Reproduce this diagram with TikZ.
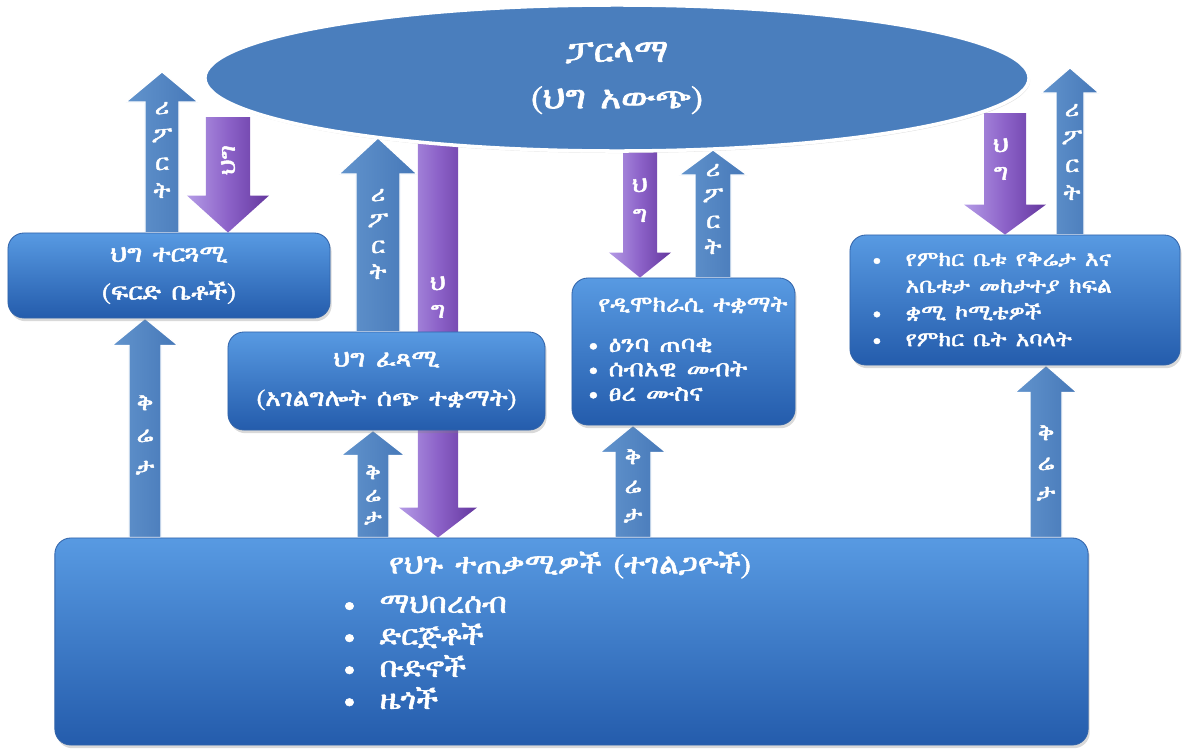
\documentclass[tikz,border=0pt]{standalone}
\usepackage{fontspec}
\usepackage{tikz}
\usetikzlibrary{shapes.geometric}
\usetikzlibrary{calc}
\usetikzlibrary{shadows}
\usetikzlibrary{backgrounds}
\newfontfamily\ethfont{FreeSerif}[FakeBold=2,FakeStretch=1.1,WordSpace=1.6]
\definecolor{boxtop}{RGB}{88,154,226}
\definecolor{boxbot}{RGB}{36,92,172}
\definecolor{boxline}{RGB}{50,100,170}
\definecolor{arrblue}{RGB}{70,120,184}
\definecolor{arrblueL}{RGB}{98,148,205}
\definecolor{purpL}{RGB}{180,155,230}
\definecolor{purpM}{RGB}{140,98,200}
\definecolor{purpD}{RGB}{100,55,158}
\definecolor{parlblue}{RGB}{74,126,189}

\tikzset{
  govbox/.style={rectangle, rounded corners=0.4cm, top color=boxtop, bottom color=boxbot,
    draw=boxline, line width=0.6pt,
    drop shadow={opacity=0.3, shadow xshift=0.04cm, shadow yshift=-0.08cm}},
  lbl/.style={text=white, font=\ethfont\fontsize{17}{19}\selectfont},
  upblock/.style={left color=arrblueL, right color=arrblue, draw=white, line width=0.8pt},
  downblock/.style={left color=purpL, right color=purpD, middle color=purpM},
  archar/.style={text=white, font=\ethfont\fontsize{16}{19.8}\selectfont, align=center, inner sep=0pt}
}

% block arrow: [style]{from}{to}{shaft half}{head half}{head length}
\newcommand{\blockarr}[6][]{%
  \coordinate (ba-s) at (#2);
  \coordinate (ba-t) at (#3);
  \coordinate (ba-h) at ($(ba-t)!#6!(ba-s)$);
  \path[#1] ([xshift=-#4]ba-s) -- ([xshift=-#4]ba-h) -- ([xshift=-#5]ba-h) -- (ba-t)
    -- ([xshift=#5]ba-h) -- ([xshift=#4]ba-h) -- ([xshift=#4]ba-s) -- cycle;
}

\begin{document}
\begin{tikzpicture}[x=0.025cm, y=-0.025cm]
  \useasboundingbox (0,0) rectangle (1184,750);

  % parliament
  \node[ellipse, fill=parlblue, draw=white, line width=2.5pt,
    drop shadow={opacity=0.25, shadow xshift=0.03cm, shadow yshift=-0.05cm},
    minimum width=20.6cm, minimum height=3.65cm, align=center,
    text=white, font=\ethfont\fontsize{23}{33}\selectfont] (parl) at (617,78)
    {ፓርላማ\\(ህግ አውጭ)};

  % institutions
  \node[govbox, minimum width=8.05cm, minimum height=2.125cm, align=center,
    lbl, font=\ethfont\fontsize{17}{27}\selectfont] (court) at (169,275.5)
    {ህግ ተርጓሚ\\(ፍርድ ቤቶች)};
  \node[govbox, minimum width=7.925cm, minimum height=2.45cm, align=center,
    lbl, font=\ethfont\fontsize{17}{28}\selectfont] (exec) at (386.5,381)
    {ህግ ፈጻሚ\\(አገልግሎት ሰጭ ተቋማት)};
  \node[govbox, minimum width=5.575cm, minimum height=3.675cm] (demo) at (683.5,351.5) {};
  \node[govbox, minimum width=8.25cm, minimum height=3.25cm] (council) at (1015,300) {};
  \node[govbox, minimum width=25.825cm, minimum height=5.175cm] (users) at (571.5,641.5) {};

  \node[lbl, anchor=west, inner sep=0pt, font=\ethfont\fontsize{16}{19}\selectfont]
    (demot) at (598,305) {የዲሞክራሲ ተቋማት};
  \node[lbl, anchor=north west, align=left, inner sep=0pt,
    font=\ethfont\fontsize{16.5}{17.4}\selectfont] (demol) at (588,338)
    {• ዕንባ ጠባቂ\\• ሰብአዊ መብት\\• ፀረ ሙስና};

  \node[lbl, anchor=north west, inner sep=0pt, font=\ethfont\fontsize{15}{19}\selectfont]
    (councill) at (872,247)
    {\begin{tabular}{@{}l@{\hspace{0.6cm}}l@{}}
      • & የምክር ቤቱ የቅሬታ እና\\
        & አቤቱታ መከታተያ ክፍል\\
      • & ቋሚ ኮሚቴዎች\\
      • & የምክር ቤት አባላት
    \end{tabular}};

  \node[lbl, font=\ethfont\fontsize{20}{22}\selectfont] (userst) at (570,565)
    {የህጉ ተጠቃሚዎች (ተገልጋዮች)};
  \node[lbl, anchor=north west, inner sep=0pt, font=\ethfont\fontsize{20}{22.8}\selectfont]
    (usersl) at (343,590)
    {\begin{tabular}{@{}l@{\hspace{0.6cm}}l@{}}
      • & ማህበረሰብ\\
      • & ድርጅቶች\\
      • & ቡድኖች\\
      • & ዜጎች
    \end{tabular}};

  % free ends
  \coordinate (rep1tip) at (162,72);
  \coordinate (law1top) at (228,117);
  \coordinate (rep2tip) at (378,138);
  \coordinate (law2top) at (438,130);
  \coordinate (law3top) at (640,140);
  \coordinate (rep3tip) at (713,150);
  \coordinate (law4top) at (1005,113);
  \coordinate (rep4tip) at (1070,68);

  \begin{pgfonlayer}{background}
    % reports go up, laws come down, complaints go up
    \blockarr[upblock]{162,0 |- court.north}{rep1tip}{0.425cm}{0.9cm}{0.75cm}
    \blockarr[downblock]{law1top}{228,0 |- court.north}{0.55cm}{1.025cm}{0.925cm}
    \blockarr[upblock]{145,0 |- users.north}{145,0 |- court.south}{0.4cm}{0.825cm}{0.675cm}
    \blockarr[upblock]{378,0 |- exec.north}{rep2tip}{0.55cm}{0.975cm}{0.9cm}
    \blockarr[downblock]{law2top}{438,0 |- users.north}{0.5cm}{0.975cm}{0.75cm}
    \blockarr[upblock]{373,0 |- users.north}{373,0 |- exec.south}{0.4cm}{0.8cm}{0.625cm}
    \blockarr[downblock]{law3top}{640,0 |- demo.north}{0.425cm}{0.775cm}{0.625cm}
    \blockarr[upblock]{713,0 |- demo.north}{rep3tip}{0.45cm}{0.85cm}{0.625cm}
    \blockarr[upblock]{633,0 |- users.north}{633,0 |- demo.south}{0.45cm}{0.825cm}{0.675cm}
    \blockarr[downblock]{law4top}{1005,0 |- council.north}{0.525cm}{1.025cm}{0.75cm}
    \blockarr[upblock]{1070,0 |- council.north}{rep4tip}{0.35cm}{0.725cm}{0.625cm}
    \blockarr[upblock]{1046,0 |- users.north}{1046,0 |- council.south}{0.4cm}{0.775cm}{0.675cm}
  \end{pgfonlayer}

  % arrow words
  \node[archar] (rep1) at (162,150) {ሪ\\ፖ\\ር\\ት};
  \node[archar, rotate=90] (law1) at (228,160) {ህግ};
  \node[archar, font=\ethfont\fontsize{16}{22.7}\selectfont] (comp1) at (145,435) {ቅ\\ሬ\\ታ};
  \node[archar, font=\ethfont\fontsize{16}{18.4}\selectfont] (rep2) at (378,234) {ሪ\\ፖ\\ር\\ት};
  \node[archar] (law2) at (438,297) {ህ\\ግ};
  \node[archar, font=\ethfont\fontsize{15}{16}\selectfont] (comp2) at (373,495) {ቅ\\ሬ\\ታ};
  \node[archar, font=\ethfont\fontsize{16}{21.3}\selectfont] (law3) at (640,200) {ህ\\ግ};
  \node[archar, font=\ethfont\fontsize{16}{18.4}\selectfont] (rep3) at (713,209) {ሪ\\ፖ\\ር\\ት};
  \node[archar, font=\ethfont\fontsize{16}{20.6}\selectfont] (comp3) at (633,486) {ቅ\\ሬ\\ታ};
  \node[archar] (law4) at (1001,159) {ህ\\ግ};
  \node[archar] (rep4) at (1072,152) {ሪ\\ፖ\\ር\\ት};
  \node[archar, font=\ethfont\fontsize{16}{21.3}\selectfont] (comp4) at (1046,463) {ቅ\\ሬ\\ታ};
\end{tikzpicture}
\end{document}
